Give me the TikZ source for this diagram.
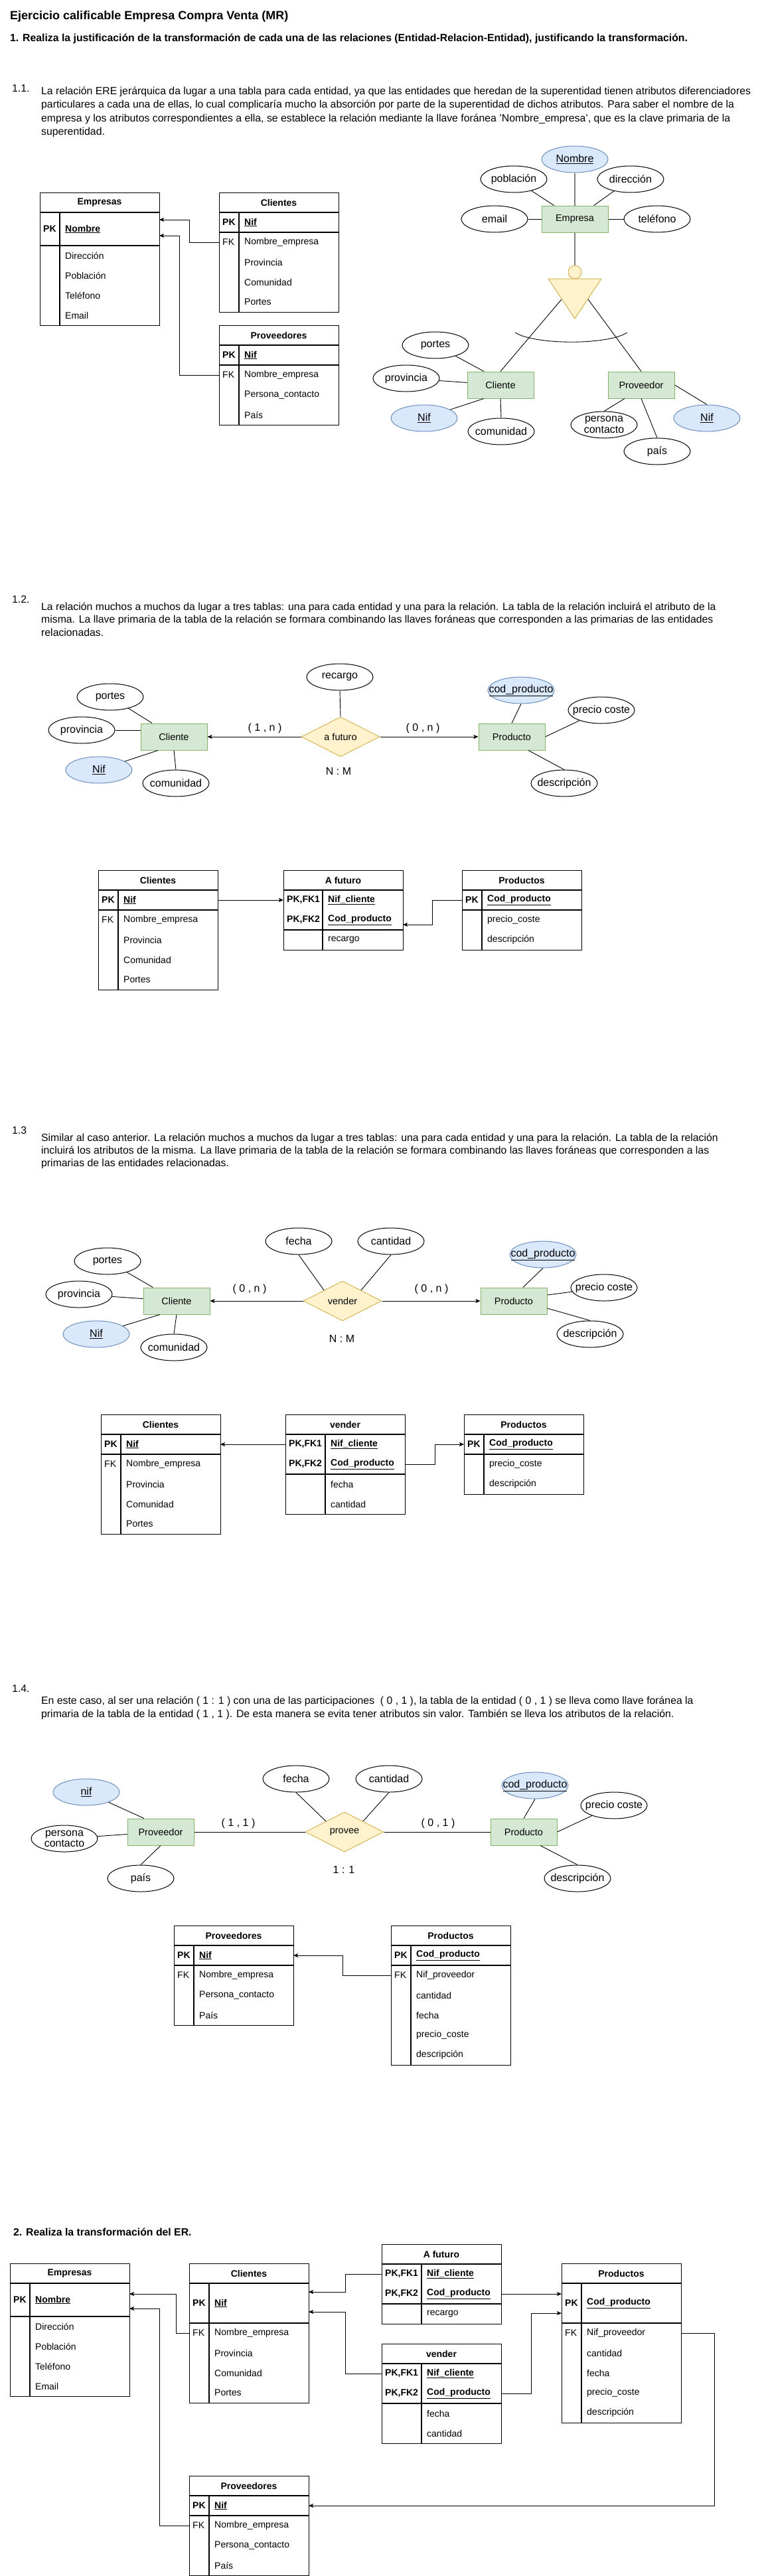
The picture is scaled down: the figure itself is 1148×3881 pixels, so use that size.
\documentclass[tikz,border=0pt]{standalone}
\usepackage{fontspec}
\setmainfont{Liberation Sans}
\usetikzlibrary{shapes.geometric,arrows.meta,calc}
\definecolor{entF}{HTML}{D5E8D4}
\definecolor{entS}{HTML}{82B366}
\definecolor{keyF}{HTML}{DAE8FC}
\definecolor{keyS}{HTML}{6C8EBF}
\definecolor{relF}{HTML}{FFF2CC}
\definecolor{relS}{HTML}{D6B656}
\definecolor{lnG}{HTML}{808080}
\newcommand{\fsz}[2]{\fontsize{#1}{#2}\selectfont}
\newcommand{\ulb}[1]{\textbf{\underline{#1}}}
\tikzset{
 ent/.style={rectangle, draw=entS, fill=entF, line width=1pt, minimum width=100pt, minimum height=40pt, inner sep=0pt, font=\fsz{14.5}{17}},
 attr/.style={ellipse, draw=black, line width=1pt, fill=white, minimum width=100pt, minimum height=40pt, inner sep=0pt},
 kattr/.style={attr, draw=keyS, fill=keyF},
 attrlbl/.style={font=\fsz{16}{18}, align=center, inner sep=0pt},
 rel/.style={diamond, aspect=2, draw=relS, fill=relF, line width=1pt, minimum width=118pt, minimum height=60pt, inner sep=0pt, font=\fsz{14.5}{17}},
 conn/.style={draw=black, line width=0.9pt},
 gconn/.style={draw=lnG, line width=1.6pt},
 card/.style={font=\fsz{16}{18}, inner sep=0pt},
 arr/.style={conn, -{Stealth[length=7pt,width=6pt,inset=1.5pt]}},
 tframe/.style={rectangle, draw=black, line width=1.1pt, inner sep=0pt},
 tline/.style={draw=black, line width=1.1pt},
 ttitle/.style={font=\bfseries\fsz{14}{17}, inner sep=0pt},
 rowc/.style={rectangle, draw=none, inner sep=0pt, outer sep=0pt},
 ktxt/.style={font=\fsz{14}{17}, inner sep=0pt, anchor=west},
 ftxt/.style={font=\fsz{14}{17}, inner sep=0pt, anchor=west},
 para/.style={font=\fsz{15.8}{20}, inner sep=0pt, anchor=west},
 ttl/.style={font=\bfseries\fsz{18}{21}, inner sep=0pt, anchor=west},
 hd/.style={font=\bfseries\fsz{15.8}{19}, inner sep=0pt, anchor=west},
}
% name, x, ytop, w, h, keycolwidth, key, field
\newcommand{\mkrow}[8]{%
 \node[rowc, minimum width=#4pt, minimum height=#5pt, anchor=north west] (#1) at (#2,#3) {};
 \node[ktxt] (#1k) at ({#2+5},{#3+#5/2}) {#7};
 \node[ftxt] (#1f) at ({#2+#6+8},{#3+#5/2}) {#8};
}
% name, x, y, w, H, title, keycolwidth
\newcommand{\mktable}[7]{%
 \node[tframe, minimum width=#4pt, minimum height=#5pt, anchor=north west] (#1) at (#2,#3) {};
 \node[ttitle] (#1t) at ({#2+#4/2},{#3+15}) {#6};
 \draw[tline] (#2,{#3+30}) -- ++(#4,0);
 \draw[tline] ({#2+#7},{#3+30}) -- ({#2+#7},{#3+#5});
}
% style, name, position, text
\newcommand{\eattr}[4]{\node[#1, label={[attrlbl, name=#2l]center:{#4}}] (#2) at (#3) {};}

\begin{document}
\begin{tikzpicture}[x=1pt,y=-1pt]
\useasboundingbox (0,0) rectangle (1148,3881);
\fill[white] (0,0) rectangle (1148,3881);

%================ headings
\node[ttl] (title) at (15,25) {Ejercicio calificable Empresa Compra Venta (MR)};
\node[hd] (h1) at (15,58) {1. Realiza la justificación de la transformación de cada una de las relaciones (Entidad-Relacion-Entidad), justificando la transformación.};

%================ 1.1 text
\node[para] (n11) at (18,133) {1.1.};
\node[para] (p11a) at (62,138) {La relación ERE jerárquica da lugar a una tabla para cada entidad, ya que las entidades que heredan de la superentidad tienen atributos diferenciadores};
\node[para] (p11b) at (62,158.5) {particulares a cada una de ellas, lo cual complicaría mucho la absorción por parte de la superentidad de dichos atributos. Para saber el nombre de la};
\node[para] (p11c) at (62,179) {empresa y los atributos correspondientes a ella, se establece la relación mediante la llave foránea 'Nombre\_empresa', que es la clave primaria de la};
\node[para] (p11d) at (62,199.5) {superentidad.};

%================ 1.1 tables
\mktable{tAEmp}{60}{290}{180}{200}{Empresas}{30}
\mkrow{tAEmpPK}{60}{320}{180}{50}{30}{\textbf{PK}}{\ulb{Nombre}}
\draw[tline] (60,370) -- ++(180,0);
\mkrow{tAEmpR1}{60}{370}{180}{30}{30}{}{Dirección}
\mkrow{tAEmpR2}{60}{400}{180}{30}{30}{}{Población}
\mkrow{tAEmpR3}{60}{430}{180}{30}{30}{}{Teléfono}
\mkrow{tAEmpR4}{60}{460}{180}{30}{30}{}{Email}

\mktable{tACli}{330}{290}{180}{180}{Clientes}{30}
\mkrow{tACliPK}{330}{320}{180}{30}{30}{\textbf{PK}}{\ulb{Nif}}
\draw[tline] (330,350) -- ++(180,0);
\mkrow{tACliFK}{330}{350}{180}{30}{30}{FK}{Nombre\_empresa}
\mkrow{tACliR2}{330}{380}{180}{30}{30}{}{Provincia}
\mkrow{tACliR3}{330}{410}{180}{30}{30}{}{Comunidad}
\mkrow{tACliR4}{330}{440}{180}{30}{30}{}{Portes}

\mktable{tAPrv}{330}{490}{180}{150}{Proveedores}{30}
\mkrow{tAPrvPK}{330}{520}{180}{30}{30}{\textbf{PK}}{\ulb{Nif}}
\draw[tline] (330,550) -- ++(180,0);
\mkrow{tAPrvFK}{330}{550}{180}{30}{30}{FK}{Nombre\_empresa}
\mkrow{tAPrvR2}{330}{580}{180}{30}{30}{}{Persona\_contacto}
\mkrow{tAPrvR3}{330}{610}{180}{30}{30}{}{País}

\draw[arr] (tACliFK.west) -- ++(-45,0) |- ([yshift=14pt]tAEmpPK.east);
\draw[arr] (tAPrvFK.west) -- ++(-60,0) |- ([yshift=-10pt]tAEmpPK.east);

%================ 1.1 ER
\eattr{kattr}{aNom}{866,240}{\underline{Nombre}}
\eattr{attr}{aPob}{774,270}{población}
\eattr{attr}{aDir}{950,270}{dirección}
\eattr{attr}{aEma}{745,330}{email}
\node[ent] (aEmp) at (866,330) {Empresa};
\eattr{attr}{aTel}{990,330}{teléfono}
\node[circle, draw=relS, fill=relF, line width=1pt, minimum size=20pt, inner sep=0pt] (aIsa) at (866,410) {};
\filldraw[draw=relS, fill=relF, line width=1pt] (826,420) -- (906,420) -- (866,480) -- cycle;
\coordinate (aTriL) at (846,451);
\coordinate (aTriR) at (886,451);
\draw[conn] (776,501) .. controls (806,520) and (916,520) .. (945,501);
\node[ent] (aCli) at (754,580) {Cliente};
\node[ent] (aPrv) at (966,580) {Proveedor};
\eattr{attr}{aPor}{656,520}{portes}
\eattr{attr}{aProv}{612,570}{provincia}
\eattr{kattr}{aNif}{639,630}{\underline{Nif}}
\eattr{attr}{aCom}{755,650}{comunidad}
\eattr{attr}{aPC}{910,640}{persona\\[-1pt]contacto}
\eattr{attr}{aPais}{990,680}{país}
\eattr{kattr}{aNif2}{1065,630}{\underline{Nif}}

\draw[gconn] (aNom) -- (aEmp);
\draw[gconn] (aEmp) -- (aIsa);
\draw[conn] (aPob) -- (aEmp);
\draw[conn] (aDir) -- (aEmp);
\draw[conn] (aEma) -- (aEmp);
\draw[conn] (aTel) -- (aEmp);
\draw[conn] (aTriL) -- (aCli.north);
\draw[conn] (aTriR) -- (aPrv.north);
\draw[conn] (aPor) -- ([xshift=-25pt]aCli.north);
\draw[conn] (aProv) -- (aCli);
\draw[conn] (aNif) -- ([xshift=-25pt]aCli.south);
\draw[conn] (aCom.north) -- (aCli.south);
\draw[conn] (aPC.north) -- ([xshift=-25pt]aPrv.south);
\draw[conn] (aPais.north) -- (aPrv.south);
\draw[conn] (aNif2.north) -- (aPrv.east);

%================ 1.2 text
\node[para] (n12) at (18,903) {1.2.};
\node[para] (p12a) at (62,915) {La relación muchos a muchos da lugar a tres tablas: una para cada entidad y una para la relación. La tabla de la relación incluirá el atributo de la};
\node[para] (p12b) at (62,934) {misma. La llave primaria de la tabla de la relación se formara combinando las llaves foráneas que corresponden a las primarias de las entidades};
\node[para] (p12c) at (62,953) {relacionadas.};

%================ 1.2 ER
\eattr{attr}{bRec}{512,1020}{recargo}
\eattr{attr}{bPor}{166,1050}{portes}
\eattr{attr}{bProv}{123,1100}{provincia}
\node[ent] (bCli) at (262,1110) {Cliente};
\eattr{kattr}{bNif}{149,1160}{\underline{Nif}}
\eattr{attr}{bCom}{265,1180}{comunidad}
\node[rel] (bRel) at (513,1110) {a futuro};
\node[ent] (bPro) at (771,1110) {Producto};
\eattr{kattr}{bCod}{785,1040}{\underline{cod\_producto}}
\eattr{attr}{bPre}{906,1070}{precio coste}
\eattr{attr}{bDes}{850,1180}{descripción}
\node[card] (bC1) at (399,1097) {( 1 , n )};
\node[card] (bC2) at (637,1097) {( 0 , n )};
\node[card] (bNM) at (510,1162) {N : M};

\draw[arr] (bRel.west) -- (bCli.east);
\draw[arr] (bRel.east) -- (bPro.west);
\draw[conn] (bPor) -- (bCli);
\draw[conn] (bProv.east) -- ([yshift=10pt]bCli.west);
\draw[conn] (bNif) -- ([xshift=-24pt]bCli.south);
\draw[conn] (bCom.north) -- (bCli.south);
\draw[conn] (bRec.south) -- (bRel.north);
\draw[conn] (bCod.south) -- (bPro.north);
\draw[conn] (bPre) -- (bPro.east);
\draw[conn] (bDes.north) -- ([xshift=25pt]bPro.south);

%================ 1.2 tables
\mktable{tBCli}{148}{1311}{180}{180}{Clientes}{30}
\mkrow{tBCliPK}{148}{1341}{180}{30}{30}{\textbf{PK}}{\ulb{Nif}}
\draw[tline] (148,1371) -- ++(180,0);
\mkrow{tBCliFK}{148}{1371}{180}{30}{30}{FK}{Nombre\_empresa}
\mkrow{tBCliR2}{148}{1401}{180}{30}{30}{}{Provincia}
\mkrow{tBCliR3}{148}{1431}{180}{30}{30}{}{Comunidad}
\mkrow{tBCliR4}{148}{1461}{180}{30}{30}{}{Portes}

\mktable{tBAf}{427}{1311}{180}{120}{A futuro}{59}
\mkrow{tBAfK1}{427}{1341}{180}{30}{59}{\textbf{PK,FK1}}{\ulb{Nif\_cliente}}
\mkrow{tBAfK2}{427}{1371}{180}{30}{59}{\textbf{PK,FK2}}{\ulb{Cod\_producto}}
\draw[tline] (427,1401) -- ++(180,0);
\mkrow{tBAfR1}{427}{1401}{180}{30}{59}{}{recargo}

\mktable{tBPro}{696}{1311}{180}{120}{Productos}{30}
\mkrow{tBProPK}{696}{1341}{180}{30}{30}{\textbf{PK}}{\ulb{Cod\_producto}}
\draw[tline] (696,1371) -- ++(180,0);
\mkrow{tBProR1}{696}{1371}{180}{30}{30}{}{precio\_coste}
\mkrow{tBProR2}{696}{1401}{180}{30}{30}{}{descripción}

\draw[arr] (tBCliPK.east) -- (tBAfK1.west);
\draw[arr] (tBProPK.west) -- ++(-45,0) |- ([yshift=-7pt]tBAfK2.east);

%================ 1.3 text
\node[para] (n13) at (18,1703) {1.3};
\node[para] (p13a) at (62,1715) {Similar al caso anterior. La relación muchos a muchos da lugar a tres tablas: una para cada entidad y una para la relación. La tabla de la relación};
\node[para] (p13b) at (62,1734) {incluirá los atributos de la misma. La llave primaria de la tabla de la relación se formara combinando las llaves foráneas que corresponden a las};
\node[para] (p13c) at (62,1753) {primarias de las entidades relacionadas.};

%================ 1.3 ER
\eattr{attr}{cFec}{450,1870}{fecha}
\eattr{attr}{cCan}{589,1870}{cantidad}
\eattr{attr}{cPor}{162,1900}{portes}
\eattr{attr}{cProv}{119,1950}{provincia}
\node[ent] (cCli) at (266,1960) {Cliente};
\eattr{kattr}{cNif}{145,2010}{\underline{Nif}}
\eattr{attr}{cCom}{262,2030}{comunidad}
\node[rel] (cRel) at (516,1960) {vender};
\node[ent] (cPro) at (774,1960) {Producto};
\eattr{kattr}{cCod}{818,1890}{\underline{cod\_producto}}
\eattr{attr}{cPre}{910,1940}{precio coste}
\eattr{attr}{cDes}{889,2010}{descripción}
\node[card] (cC1) at (376,1942) {( 0 , n )};
\node[card] (cC2) at (650,1942) {( 0 , n )};
\node[card] (cNM) at (515,2017) {N : M};

\draw[arr] (cRel.west) -- (cCli.east);
\draw[arr] (cRel.east) -- (cPro.west);
\draw[conn] (cFec.south) -- (cRel.150);
\draw[conn] (cCan.south) -- (cRel.30);
\draw[conn] (cPor) -- (cCli);
\draw[conn] (cProv) -- (cCli);
\draw[conn] (cNif) -- ([xshift=-25pt]cCli.south);
\draw[conn] (cCom.north) -- (cCli.south);
\draw[conn] (cCod.south) -- ([xshift=14pt]cPro.north);
\draw[conn] ([yshift=9pt]cPro.east) -- (cPre);
\draw[conn] ([yshift=-11pt]cPro.east) -- (cDes.north);

%================ 1.3 tables
\mktable{tCCli}{152}{2131}{180}{180}{Clientes}{30}
\mkrow{tCCliPK}{152}{2161}{180}{30}{30}{\textbf{PK}}{\ulb{Nif}}
\draw[tline] (152,2191) -- ++(180,0);
\mkrow{tCCliFK}{152}{2191}{180}{30}{30}{FK}{Nombre\_empresa}
\mkrow{tCCliR2}{152}{2221}{180}{30}{30}{}{Provincia}
\mkrow{tCCliR3}{152}{2251}{180}{30}{30}{}{Comunidad}
\mkrow{tCCliR4}{152}{2281}{180}{30}{30}{}{Portes}

\mktable{tCVen}{430}{2131}{180}{150}{vender}{60}
\mkrow{tCVenK1}{430}{2161}{180}{30}{60}{\textbf{PK,FK1}}{\ulb{Nif\_cliente}}
\mkrow{tCVenK2}{430}{2191}{180}{30}{60}{\textbf{PK,FK2}}{\ulb{Cod\_producto}}
\draw[tline] (430,2221) -- ++(180,0);
\mkrow{tCVenR1}{430}{2221}{180}{30}{60}{}{fecha}
\mkrow{tCVenR2}{430}{2251}{180}{30}{60}{}{cantidad}

\mktable{tCPro}{699}{2131}{180}{120}{Productos}{30}
\mkrow{tCProPK}{699}{2161}{180}{30}{30}{\textbf{PK}}{\ulb{Cod\_producto}}
\draw[tline] (699,2191) -- ++(180,0);
\mkrow{tCProR1}{699}{2191}{180}{30}{30}{}{precio\_coste}
\mkrow{tCProR2}{699}{2221}{180}{30}{30}{}{descripción}

\draw[arr] (tCVenK1.west) -- (tCCliPK.east);
\draw[arr] (tCVenK2.east) -- ++(45,0) |- (tCProPK.west);

%================ 1.4 text
\node[para] (n14) at (18,2544) {1.4.};
\node[para] (p14a) at (62,2563) {En este caso, al ser una relación ( 1 : 1 ) con una de las participaciones \ ( 0 , 1 ), la tabla de la entidad ( 0 , 1 ) se lleva como llave foránea la};
\node[para] (p14b) at (62,2583) {primaria de la tabla de la entidad ( 1 , 1 ). De esta manera se evita tener atributos sin valor. También se lleva los atributos de la relación.};

%================ 1.4 ER
\eattr{attr}{dFec}{446,2680}{fecha}
\eattr{attr}{dCan}{586,2680}{cantidad}
\eattr{kattr}{dNif}{130,2700}{\underline{nif}}
\eattr{attr}{dPC}{97,2770}{persona\\[-2pt]contacto}
\node[ent] (dPrv) at (242,2760) {Proveedor};
\eattr{attr}{dPais}{212,2830}{país}
\node[rel] (dRel) at (519,2760) {provee};
\node[ent] (dPro) at (789,2760) {Producto};
\eattr{kattr}{dCod}{806,2690}{\underline{cod\_producto}}
\eattr{attr}{dPre}{925,2720}{precio coste}
\eattr{attr}{dDes}{870,2830}{descripción}
\node[card] (dC1) at (359,2747) {( 1 , 1 )};
\node[card] (dC2) at (660,2747) {( 0 , 1 )};
\node[card] (d11) at (518,2817) {1 : 1};

\draw[conn] (dPrv.east) -- (dRel.west);
\draw[conn] (dRel.east) -- (dPro.west);
\draw[conn] (dNif) -- ([xshift=-25pt]dPrv.north);
\draw[conn] (dPC) -- (dPrv);
\draw[conn] (dPais.north) -- (dPrv.south);
\draw[conn] (dFec.south) -- (dRel.150);
\draw[conn] (dCan.south) -- (dRel.30);
\draw[conn] (dCod.south) -- (dPro.north);
\draw[conn] (dPre) -- (dPro.east);
\draw[conn] (dDes.north) -- ([xshift=25pt]dPro.south);

%================ 1.4 tables
\mktable{tDPrv}{262}{2901}{180}{150}{Proveedores}{30}
\mkrow{tDPrvPK}{262}{2931}{180}{30}{30}{\textbf{PK}}{\ulb{Nif}}
\draw[tline] (262,2961) -- ++(180,0);
\mkrow{tDPrvFK}{262}{2961}{180}{30}{30}{FK}{Nombre\_empresa}
\mkrow{tDPrvR2}{262}{2991}{180}{30}{30}{}{Persona\_contacto}
\mkrow{tDPrvR3}{262}{3021}{180}{30}{30}{}{País}

\mktable{tDPro}{589}{2901}{180}{210}{Productos}{30}
\mkrow{tDProPK}{589}{2931}{180}{30}{30}{\textbf{PK}}{\ulb{Cod\_producto}}
\draw[tline] (589,2961) -- ++(180,0);
\mkrow{tDProFK}{589}{2961}{180}{30}{30}{FK}{Nif\_proveedor}
\mkrow{tDProR2}{589}{2991}{180}{30}{30}{}{cantidad}
\mkrow{tDProR3}{589}{3021}{180}{30}{30}{}{fecha}
\mkrow{tDProR4}{589}{3051}{180}{30}{30}{}{precio\_coste}
\mkrow{tDProR5}{589}{3081}{180}{30}{30}{}{descripción}

\draw[arr] (tDProFK.west) -- ++(-73,0) |- (tDPrvPK.east);

%================ 2 heading
\node[hd] (h2) at (20,3363) {2. Realiza la transformación del ER.};

%================ 2 tables
\mktable{tEEmp}{15}{3410}{180}{200}{Empresas}{30}
\mkrow{tEEmpPK}{15}{3440}{180}{50}{30}{\textbf{PK}}{\ulb{Nombre}}
\draw[tline] (15,3490) -- ++(180,0);
\mkrow{tEEmpR1}{15}{3490}{180}{30}{30}{}{Dirección}
\mkrow{tEEmpR2}{15}{3520}{180}{30}{30}{}{Población}
\mkrow{tEEmpR3}{15}{3550}{180}{30}{30}{}{Teléfono}
\mkrow{tEEmpR4}{15}{3580}{180}{30}{30}{}{Email}

\mktable{tECli}{285}{3410}{180}{210}{Clientes}{30}
\mkrow{tECliPK}{285}{3440}{180}{60}{30}{\textbf{PK}}{\ulb{Nif}}
\draw[tline] (285,3500) -- ++(180,0);
\mkrow{tECliFK}{285}{3500}{180}{30}{30}{FK}{Nombre\_empresa}
\mkrow{tECliR2}{285}{3530}{180}{30}{30}{}{Provincia}
\mkrow{tECliR3}{285}{3560}{180}{30}{30}{}{Comunidad}
\mkrow{tECliR4}{285}{3590}{180}{30}{30}{}{Portes}

\mktable{tEAf}{575}{3381}{180}{120}{A futuro}{60}
\mkrow{tEAfK1}{575}{3411}{180}{30}{60}{\textbf{PK,FK1}}{\ulb{Nif\_cliente}}
\mkrow{tEAfK2}{575}{3441}{180}{30}{60}{\textbf{PK,FK2}}{\ulb{Cod\_producto}}
\draw[tline] (575,3471) -- ++(180,0);
\mkrow{tEAfR1}{575}{3471}{180}{30}{60}{}{recargo}

\mktable{tEVen}{575}{3531}{180}{150}{vender}{60}
\mkrow{tEVenK1}{575}{3561}{180}{30}{60}{\textbf{PK,FK1}}{\ulb{Nif\_cliente}}
\mkrow{tEVenK2}{575}{3591}{180}{30}{60}{\textbf{PK,FK2}}{\ulb{Cod\_producto}}
\draw[tline] (575,3621) -- ++(180,0);
\mkrow{tEVenR1}{575}{3621}{180}{30}{60}{}{fecha}
\mkrow{tEVenR2}{575}{3651}{180}{30}{60}{}{cantidad}

\mktable{tEPro}{846}{3410}{180}{240}{Productos}{30}
\mkrow{tEProPK}{846}{3440}{180}{60}{30}{\textbf{PK}}{\ulb{Cod\_producto}}
\draw[tline] (846,3500) -- ++(180,0);
\mkrow{tEProFK}{846}{3500}{180}{30}{30}{FK}{Nif\_proveedor}
\mkrow{tEProR2}{846}{3530}{180}{30}{30}{}{cantidad}
\mkrow{tEProR3}{846}{3560}{180}{30}{30}{}{fecha}
\mkrow{tEProR4}{846}{3590}{180}{30}{30}{}{precio\_coste}
\mkrow{tEProR5}{846}{3620}{180}{30}{30}{}{descripción}

\mktable{tEPrv}{285}{3730}{180}{150}{Proveedores}{30}
\mkrow{tEPrvPK}{285}{3760}{180}{30}{30}{\textbf{PK}}{\ulb{Nif}}
\draw[tline] (285,3790) -- ++(180,0);
\mkrow{tEPrvFK}{285}{3790}{180}{30}{30}{FK}{Nombre\_empresa}
\mkrow{tEPrvR2}{285}{3820}{180}{30}{30}{}{Persona\_contacto}
\mkrow{tEPrvR3}{285}{3850}{180}{30}{30}{}{País}

\draw[arr] (tECliFK.west) -- ++(-20,0) |- ([yshift=9pt]tEEmpPK.east);
\draw[arr] (tEPrvFK.west) -- ++(-45,0) |- ([yshift=-13pt]tEEmpPK.east);
\draw[arr] (tEAfK1.west) -- ++(-55,0) |- ([yshift=17pt]tECliPK.east);
\draw[arr] (tEVenK1.west) -- ++(-55,0) |- ([yshift=-13pt]tECliPK.east);
\draw[arr] (tEAfK2.east) -- ([yshift=14pt]tEProPK.west);
\draw[arr] (tEVenK2.east) -- ++(45,0) |- ([yshift=-15pt]tEProPK.west);
\draw[arr] (tEProFK.east) -- ++(50,0) |- (tEPrvPK.east);

\end{tikzpicture}
\end{document}
